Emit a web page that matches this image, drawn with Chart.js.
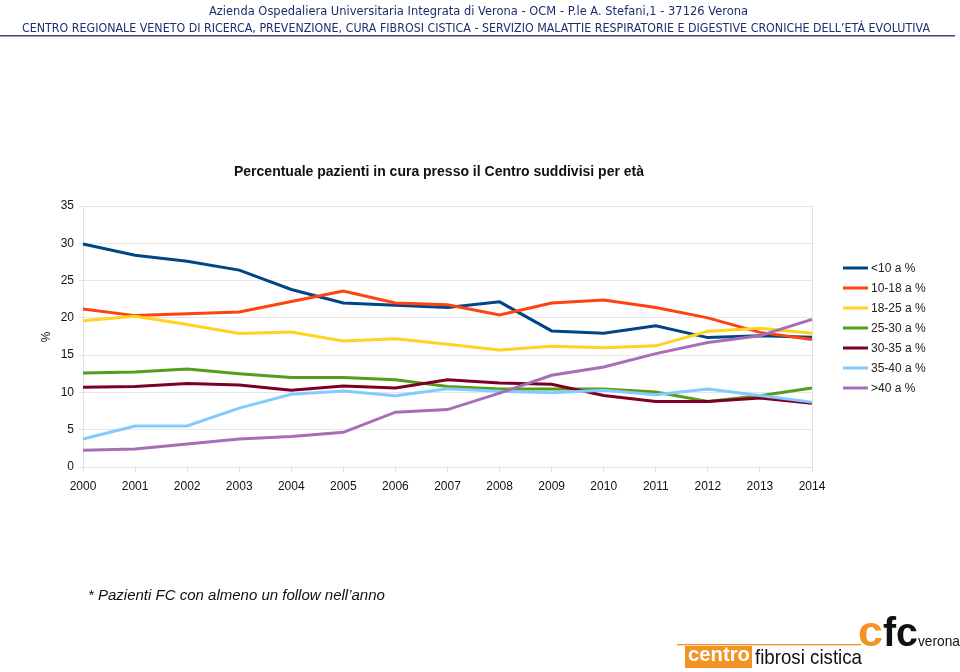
<!DOCTYPE html>
<html><head><meta charset="utf-8">
<script src="https://cdn.jsdelivr.net/npm/chart.js@4.4.1/dist/chart.umd.min.js"></script>
<style>
html,body{margin:0;padding:0;background:#fff;width:960px;height:672px;overflow:hidden;}
#wrap{position:relative;width:960px;height:672px;}
#c{position:absolute;left:0;top:0;}
.abs{position:absolute;left:0;top:0;}
#foot{position:absolute;left:88px;top:586px;font-family:"Liberation Sans",Arial,sans-serif;font-style:italic;font-size:15px;color:#111;white-space:nowrap;}
</style></head><body>
<div id="wrap">
<canvas id="c" width="960" height="672"></canvas>
<svg class="abs" width="960" height="40">
<text x="209" y="15" textLength="539" lengthAdjust="spacingAndGlyphs" font-family="DejaVu Sans" font-size="11.5" fill="#1f2d6e">Azienda Ospedaliera Universitaria Integrata di Verona - OCM - P.le A. Stefani,1 - 37126 Verona</text>
<text x="22" y="32" textLength="908" lengthAdjust="spacingAndGlyphs" font-family="DejaVu Sans" font-size="11.5" fill="#1f2d6e">CENTRO REGIONALE VENETO DI RICERCA, PREVENZIONE, CURA FIBROSI CISTICA - SERVIZIO MALATTIE RESPIRATORIE E DIGESTIVE CRONICHE DELL’ETÁ EVOLUTIVA</text>
<rect x="0" y="35" width="955" height="1.5" fill="#3d4a78"/>
</svg>
<div id="foot">* Pazienti FC con almeno un follow nell’anno</div>
<svg class="abs" width="960" height="672" style="pointer-events:none">
<rect x="677" y="644" width="184" height="1.3" fill="#f0901e"/>
<rect x="685" y="646" width="67" height="22" fill="#f39325"/>
<text x="688" y="661" textLength="62" lengthAdjust="spacingAndGlyphs" font-family="Liberation Sans" font-weight="bold" font-size="20" fill="#fff">centro</text>
<text x="755" y="664" textLength="107" lengthAdjust="spacingAndGlyphs" font-family="Liberation Sans" font-size="21" fill="#111">fibrosi cistica</text>
<text x="858" y="646" textLength="25" lengthAdjust="spacingAndGlyphs" font-family="Liberation Sans" font-weight="bold" font-size="42" fill="#f39325">c</text>
<text x="883" y="646" textLength="35" lengthAdjust="spacingAndGlyphs" font-family="Liberation Sans" font-weight="bold" font-size="40" fill="#111">fc</text>
<text x="918" y="646" textLength="42" lengthAdjust="spacingAndGlyphs" font-family="Liberation Sans" font-size="15" fill="#111">verona</text>
</svg>
</div>
<script>
const years = ['2000','2001','2002','2003','2004','2005','2006','2007','2008','2009','2010','2011','2012','2013','2014'];
const seriesNames = ['<10 a %','10-18 a %','18-25 a %','25-30 a %','30-35 a %','35-40 a %','>40 a %'];
const under10  = [29.9,28.4,27.6,26.4,23.8,22.0,21.7,21.4,22.15,18.25,17.95,18.95,17.35,17.6,17.4];
const age10_18 = [21.2,20.3,20.55,20.8,22.2,23.6,22.0,21.75,20.4,22.0,22.4,21.4,20.0,18.05,17.1];
const age18_25 = [19.6,20.2,19.1,17.9,18.1,16.9,17.2,16.45,15.7,16.2,16.0,16.25,18.2,18.6,17.95];
const age25_30 = [12.6,12.75,13.15,12.5,12.0,12.0,11.7,10.8,10.45,10.45,10.45,10.05,8.8,9.55,10.6];
const age30_35 = [10.7,10.8,11.2,11.0,10.3,10.85,10.6,11.7,11.25,11.1,9.6,8.8,8.8,9.25,8.55];
const age35_40 = [3.75,5.5,5.5,7.9,9.75,10.2,9.55,10.5,10.15,9.95,10.3,9.7,10.45,9.6,8.7];
const over40   = [2.25,2.4,3.1,3.75,4.1,4.65,7.35,7.7,9.9,12.3,13.4,15.2,16.7,17.6,19.8];
const yTicks = [0,5,10,15,20,25,30,35];
const colors = ['#004586','#ff420e','#ffd320','#579d1c','#7e0021','#83caff','#a66fb5'];
const allSeries = [under10,age10_18,age18_25,age25_30,age30_35,age35_40,over40];
const chartTitle = 'Percentuale pazienti in cura presso il Centro suddivisi per età';
const yTitle = '%';

const FONT = '"Liberation Sans", Arial, sans-serif';

const extras = {
  id:'extras',
  afterDraw(chart){
    const ctx = chart.ctx;
    ctx.save();
    ctx.fillStyle = '#111';
    ctx.font = 'bold 14px ' + FONT;
    ctx.textAlign = 'center'; ctx.textBaseline = 'middle';
    ctx.fillText(chartTitle, 439, 172);
    // y title
    ctx.font = '12px ' + FONT;
    ctx.translate(47, 337);
    ctx.rotate(-Math.PI/2);
    ctx.fillText(yTitle, 0, 0);
    ctx.restore();
    // legend
    ctx.save();
    chart.data.datasets.forEach((ds,i)=>{
      const y = 268 + 20*i;
      ctx.strokeStyle = ds.borderColor; ctx.lineWidth = 3; ctx.lineCap='butt';
      ctx.beginPath(); ctx.moveTo(843,y); ctx.lineTo(868,y); ctx.stroke();
      ctx.fillStyle = '#222'; ctx.font = '12px ' + FONT;
      ctx.textAlign='left'; ctx.textBaseline='middle';
      ctx.fillText(ds.label, 871, y+1);
    });
    ctx.restore();
  }
};

new Chart(document.getElementById('c'), {
  type:'line',
  data:{
    labels: years,
    datasets: allSeries.map((d,i)=>({
      label: seriesNames[i], data: d, borderColor: colors[i], backgroundColor: colors[i],
      borderWidth: 3, pointRadius: 0, pointHoverRadius: 0, tension: 0, fill:false,
      order: allSeries.length - 1 - i
    }))
  },
  options:{
    responsive:false, animation:false, devicePixelRatio:1,
    layout:{padding:{top:206,right:148,bottom:0,left:0}},
    plugins:{legend:{display:false}, title:{display:false}, tooltip:{enabled:false}},
    scales:{
      x:{
        offset:false,
        grid:{drawOnChartArea:true, color:(c)=> c.index===years.length-1 ? '#e2e2e2' : 'rgba(0,0,0,0)', tickColor:'#e2e2e2', tickLength:5, lineWidth:1},
        border:{display:true, color:'#e2e2e2'},
        ticks:{font:{family:FONT,size:12}, color:'#111', padding:7, autoSkip:false, maxRotation:0},
        afterFit:(s)=>{s.height = 672-467;}
      },
      y:{
        min:0, max:35,
        afterBuildTicks:(s)=>{s.ticks = yTicks.map(v=>({value:v}));},
        grid:{color:'#e6e6e6', tickLength:4, tickColor:'#e2e2e2'},
        border:{display:true, color:'#e2e2e2'},
        ticks:{font:{family:FONT,size:12}, color:'#111', padding:5},
        afterFit:(s)=>{s.width = 83;}
      }
    }
  },
  plugins:[extras]
});
</script>
</body></html>
